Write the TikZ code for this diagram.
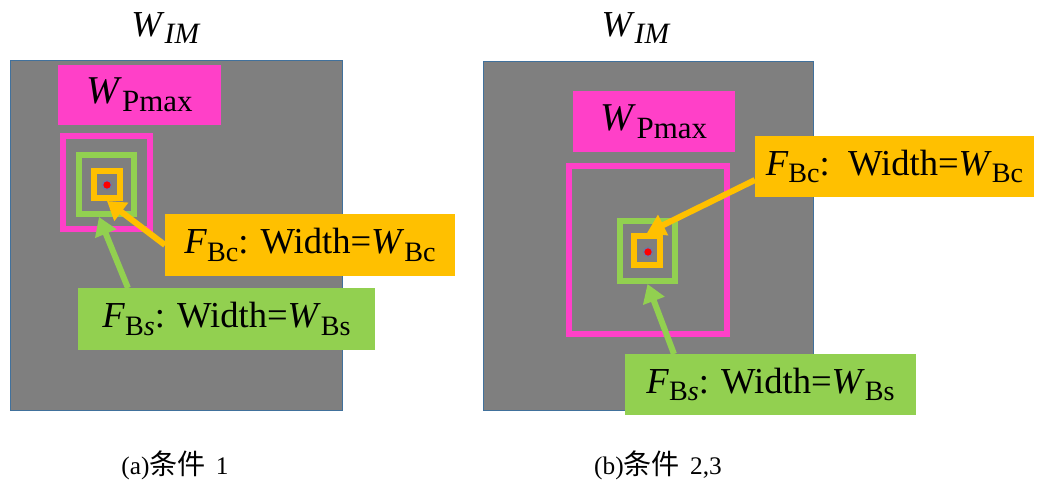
\documentclass[tikz,border=0pt]{standalone}
\usepackage{fontspec}
\setmainfont{Liberation Serif}
\newfontfamily\cjk{Noto Sans CJK SC}
\usetikzlibrary{arrows.meta,calc}
\definecolor{mag}{HTML}{FF40C8}
\definecolor{org}{HTML}{FFC000}
\definecolor{grn}{HTML}{92D050}
\definecolor{bgray}{HTML}{7F7F7F}
\definecolor{edge}{HTML}{41719C}
\definecolor{halo}{HTML}{6A78A8}
\newcommand\lsub[2]{\raisebox{-0.2em}{\fontsize{#1}{#1}\selectfont #2}}
\newcommand\lab[1]{\textit{#1}}
\newcommand\cjktxt[1]{{\cjk\fontsize{20}{22}\selectfont #1}}
\begin{document}
\begin{tikzpicture}[x=0.025cm,y=-0.025cm,
  panel/.style={draw=edge,line width=0.6pt,fill=bgray,inner sep=0pt,outer sep=0pt},
  lbox/.style={inner sep=0pt,outer sep=0pt,font=\fontsize{26}{30}\selectfont},
  pbox/.style={inner sep=0pt,outer sep=0pt,fill=mag,font=\fontsize{28}{32}\selectfont},
  sq/.style={draw=#1,line width=0.15cm,inner sep=0pt,fill=none},
  arr/.style={draw=#1,line width=0.15cm,-{Triangle[length=0.45cm,width=0.55cm]}},
  dot/.style={circle,fill=red,draw=halo,line width=0.8pt,inner sep=0pt,minimum size=0.22cm},
  ttl/.style={inner sep=0pt,font=\fontsize{26}{28}\selectfont},
  captext/.style={inner sep=0pt,font=\fontsize{18}{21}\selectfont},
]
\useasboundingbox (0,0) rectangle (1039,484);

% ---------- panel (a) ----------
\node[panel,minimum width=8.3cm,minimum height=8.75cm] (gA) at (176,235) {};
\node[ttl] (tA) at (166,28) {\lab{W}\lsub{21}{\lab{IM}}};
\node[pbox,minimum width=4.075cm,minimum height=1.5cm] (pA) at (139.5,95) {\lab{W}\lsub{22}{Pmax}};
\node[sq=mag,minimum width=2.175cm,minimum height=2.325cm] (mA) at (106.5,182.5) {};
\node[sq=grn,minimum width=1.375cm,minimum height=1.475cm] (gsA) at (106.5,184.5) {};
\node[sq=org,minimum width=0.65cm,minimum height=0.675cm] (osA) at (107,184.5) {};
\node[dot] (dA) at (107,185) {};
\node[lbox,fill=org,minimum width=7.25cm,minimum height=1.55cm] (olA) at (310,245)
  {\lab{F}\lsub{20}{Bc}: Width=\lab{W}\lsub{20}{Bc}};
\node[lbox,fill=grn,minimum width=7.425cm,minimum height=1.55cm] (glA) at (226.5,319)
  {\lab{F}\lsub{20}{B\textit{s}}: Width=\lab{W}\lsub{20}{Bs}};
\draw[arr=org] (olA.west) -- (osA.south);
\draw[arr=grn] ($(glA.north west)+(50,0)$) -- ($(gsA.south)+(-7.5,0)$);
\node[captext] (cA) at (175,465) {(a)\cjktxt{条件}\hspace{0.4em}1};

% ---------- panel (b) ----------
\node[panel,minimum width=8.25cm,minimum height=8.725cm] (gB) at (648,235.5) {};
\node[ttl] (tB) at (636,28) {\lab{W}\lsub{21}{\lab{IM}}};
\node[pbox,minimum width=4.05cm,minimum height=1.525cm] (pB) at (654,121.5) {\lab{W}\lsub{22}{Pmax}};
\node[sq=mag,minimum width=3.95cm,minimum height=4.2cm] (mB) at (648,250) {};
\node[sq=grn,minimum width=1.375cm,minimum height=1.5cm] (gsB) at (647.5,251) {};
\node[sq=org,minimum width=0.65cm,minimum height=0.725cm] (osB) at (647,250.5) {};
\node[dot] (dB) at (648,252) {};
\node[lbox,fill=org,minimum width=6.975cm,minimum height=1.525cm] (olB) at (894.5,166.5)
  {\lab{F}\lsub{20}{Bc}:\ \ Width=\lab{W}\lsub{20}{Bc}};
\node[lbox,fill=grn,minimum width=7.275cm,minimum height=1.525cm] (glB) at (770.5,384.5)
  {\lab{F}\lsub{20}{B\textit{s}}: Width=\lab{W}\lsub{20}{Bs}};
\draw[arr=org] ($(olB.west)+(0,13.5)$) -- (osB.north);
\draw[arr=grn] ($(glB.north west)+(49,0)$) -- (gsB.south);
\node[captext] (cB) at (658,465) {(b)\cjktxt{条件}\hspace{0.4em}2,3};
\end{tikzpicture}
\end{document}
